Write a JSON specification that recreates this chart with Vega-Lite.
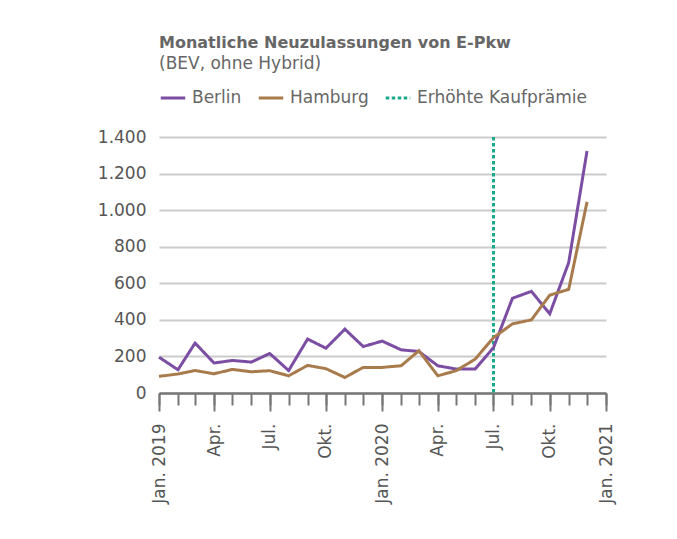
{
  "$schema": "https://vega.github.io/schema/vega-lite/v6.json",
  "width": 447,
  "height": 256,
  "padding": {"left": 97, "top": 35, "right": 10, "bottom": 10},
  "background": "white",
  "config": {
    "font": "DejaVu Sans",
    "view": {"stroke": null}
  },
  "title": {
    "text": "Monatliche Neuzulassungen von E-Pkw",
    "subtitle": "(BEV, ohne Hybrid)",
    "anchor": "start",
    "frame": "group",
    "fontSize": 16,
    "fontWeight": "bold",
    "color": "#666666",
    "subtitleFontSize": 17,
    "subtitleColor": "#666666",
    "subtitlePadding": 5,
    "offset": 12
  },
  "datasets": {
    "werte": [
      {"monat": "2019-01-01", "serie": "Berlin", "wert": 196},
      {"monat": "2019-02-01", "serie": "Berlin", "wert": 127},
      {"monat": "2019-03-01", "serie": "Berlin", "wert": 273},
      {"monat": "2019-04-01", "serie": "Berlin", "wert": 164},
      {"monat": "2019-05-01", "serie": "Berlin", "wert": 178},
      {"monat": "2019-06-01", "serie": "Berlin", "wert": 169},
      {"monat": "2019-07-01", "serie": "Berlin", "wert": 216},
      {"monat": "2019-08-01", "serie": "Berlin", "wert": 123},
      {"monat": "2019-09-01", "serie": "Berlin", "wert": 295},
      {"monat": "2019-10-01", "serie": "Berlin", "wert": 245},
      {"monat": "2019-11-01", "serie": "Berlin", "wert": 349},
      {"monat": "2019-12-01", "serie": "Berlin", "wert": 254},
      {"monat": "2020-01-01", "serie": "Berlin", "wert": 284},
      {"monat": "2020-02-01", "serie": "Berlin", "wert": 236},
      {"monat": "2020-03-01", "serie": "Berlin", "wert": 227},
      {"monat": "2020-04-01", "serie": "Berlin", "wert": 149},
      {"monat": "2020-05-01", "serie": "Berlin", "wert": 131},
      {"monat": "2020-06-01", "serie": "Berlin", "wert": 131},
      {"monat": "2020-07-01", "serie": "Berlin", "wert": 248},
      {"monat": "2020-08-01", "serie": "Berlin", "wert": 518},
      {"monat": "2020-09-01", "serie": "Berlin", "wert": 556},
      {"monat": "2020-10-01", "serie": "Berlin", "wert": 433},
      {"monat": "2020-11-01", "serie": "Berlin", "wert": 713},
      {"monat": "2020-12-01", "serie": "Berlin", "wert": 1324},
      {"monat": "2019-01-01", "serie": "Hamburg", "wert": 91},
      {"monat": "2019-02-01", "serie": "Hamburg", "wert": 104},
      {"monat": "2019-03-01", "serie": "Hamburg", "wert": 123},
      {"monat": "2019-04-01", "serie": "Hamburg", "wert": 105},
      {"monat": "2019-05-01", "serie": "Hamburg", "wert": 129},
      {"monat": "2019-06-01", "serie": "Hamburg", "wert": 116},
      {"monat": "2019-07-01", "serie": "Hamburg", "wert": 122},
      {"monat": "2019-08-01", "serie": "Hamburg", "wert": 94},
      {"monat": "2019-09-01", "serie": "Hamburg", "wert": 151},
      {"monat": "2019-10-01", "serie": "Hamburg", "wert": 133},
      {"monat": "2019-11-01", "serie": "Hamburg", "wert": 85},
      {"monat": "2019-12-01", "serie": "Hamburg", "wert": 140},
      {"monat": "2020-01-01", "serie": "Hamburg", "wert": 140},
      {"monat": "2020-02-01", "serie": "Hamburg", "wert": 149},
      {"monat": "2020-03-01", "serie": "Hamburg", "wert": 231},
      {"monat": "2020-04-01", "serie": "Hamburg", "wert": 94},
      {"monat": "2020-05-01", "serie": "Hamburg", "wert": 122},
      {"monat": "2020-06-01", "serie": "Hamburg", "wert": 185},
      {"monat": "2020-07-01", "serie": "Hamburg", "wert": 303},
      {"monat": "2020-08-01", "serie": "Hamburg", "wert": 378},
      {"monat": "2020-09-01", "serie": "Hamburg", "wert": 400},
      {"monat": "2020-10-01", "serie": "Hamburg", "wert": 535},
      {"monat": "2020-11-01", "serie": "Hamburg", "wert": 567},
      {"monat": "2020-12-01", "serie": "Hamburg", "wert": 1045}
    ],
    "praemie": [
      {"monat": "2020-07-01", "serie": "Erhöhte Kaufprämie"}
    ]
  },
  "layer": [
    {
      "data": {"name": "praemie"},
      "mark": {"type": "rule", "strokeWidth": 3},
      "encoding": {
        "x": {
          "field": "monat", "type": "temporal",
          "scale": {"type": "utc", "domain": [{"year": 2019, "month": 1, "date": 1, "utc": true}, {"year": 2021, "month": 1, "date": 1, "utc": true}]},
          "axis": {
            "orient": "bottom",
            "title": null,
            "labels": false,
            "grid": false,
            "domain": true,
            "domainColor": "#777777",
            "domainWidth": 2.5,
            "ticks": true,
            "tickColor": "#777777",
            "tickWidth": 2,
            "tickSize": 12,
            "values": [
              {"year": 2019, "month": 1, "date": 1, "utc": true},
              {"year": 2019, "month": 2, "date": 1, "utc": true},
              {"year": 2019, "month": 3, "date": 1, "utc": true},
              {"year": 2019, "month": 4, "date": 1, "utc": true},
              {"year": 2019, "month": 5, "date": 1, "utc": true},
              {"year": 2019, "month": 6, "date": 1, "utc": true},
              {"year": 2019, "month": 7, "date": 1, "utc": true},
              {"year": 2019, "month": 8, "date": 1, "utc": true},
              {"year": 2019, "month": 9, "date": 1, "utc": true},
              {"year": 2019, "month": 10, "date": 1, "utc": true},
              {"year": 2019, "month": 11, "date": 1, "utc": true},
              {"year": 2019, "month": 12, "date": 1, "utc": true},
              {"year": 2020, "month": 1, "date": 1, "utc": true},
              {"year": 2020, "month": 2, "date": 1, "utc": true},
              {"year": 2020, "month": 3, "date": 1, "utc": true},
              {"year": 2020, "month": 4, "date": 1, "utc": true},
              {"year": 2020, "month": 5, "date": 1, "utc": true},
              {"year": 2020, "month": 6, "date": 1, "utc": true},
              {"year": 2020, "month": 7, "date": 1, "utc": true},
              {"year": 2020, "month": 8, "date": 1, "utc": true},
              {"year": 2020, "month": 9, "date": 1, "utc": true},
              {"year": 2020, "month": 10, "date": 1, "utc": true},
              {"year": 2020, "month": 11, "date": 1, "utc": true},
              {"year": 2020, "month": 12, "date": 1, "utc": true},
              {"year": 2021, "month": 1, "date": 1, "utc": true}
            ]
          }
        },
        "color": {"field": "serie", "type": "nominal"},
        "strokeDash": {"field": "serie", "type": "nominal"}
      }
    },
    {
      "data": {"name": "werte"},
      "mark": {"type": "line", "strokeWidth": 3, "clip": false},
      "encoding": {
        "x": {
          "field": "monat", "type": "temporal",
          "scale": {"type": "utc", "domain": [{"year": 2019, "month": 1, "date": 1, "utc": true}, {"year": 2021, "month": 1, "date": 1, "utc": true}]},
          "axis": {
            "orient": "bottom",
            "title": null,
            "grid": false,
            "domain": false,
            "ticks": true,
            "tickColor": "#777777",
            "tickWidth": 2,
            "tickSize": 18,
            "labelAngle": -90,
            "labelFlush": false,
            "labelOverlap": false,
            "labelFontSize": 17,
            "labelColor": "#555555",
            "labelPadding": 12,
            "labelExpr": "utcmonth(datum.value) == 0 ? 'Jan. ' + utcyear(datum.value) : utcmonth(datum.value) == 3 ? 'Apr.' : utcmonth(datum.value) == 6 ? 'Jul.' : 'Okt.'",
            "values": [
              {"year": 2019, "month": 1, "date": 1, "utc": true},
              {"year": 2019, "month": 4, "date": 1, "utc": true},
              {"year": 2019, "month": 7, "date": 1, "utc": true},
              {"year": 2019, "month": 10, "date": 1, "utc": true},
              {"year": 2020, "month": 1, "date": 1, "utc": true},
              {"year": 2020, "month": 4, "date": 1, "utc": true},
              {"year": 2020, "month": 7, "date": 1, "utc": true},
              {"year": 2020, "month": 10, "date": 1, "utc": true},
              {"year": 2021, "month": 1, "date": 1, "utc": true}
            ]
          }
        },
        "y": {
          "field": "wert", "type": "quantitative",
          "scale": {"domain": [0, 1400], "nice": false},
          "axis": {
            "title": null,
            "values": [0, 200, 400, 600, 800, 1000, 1200, 1400],
            "labelExpr": "replace(format(datum.value, ',d'), ',', '.')",
            "domain": false,
            "ticks": false,
            "grid": true,
            "gridColor": "#cccccc",
            "gridWidth": 2,
            "labelFontSize": 17,
            "labelColor": "#555555",
            "labelPadding": 13
          }
        },
        "color": {
          "field": "serie", "type": "nominal",
          "scale": {"domain": ["Berlin", "Hamburg", "Erhöhte Kaufprämie"], "range": ["#7b4ea3", "#a87b4d", "#1ba98b"]},
          "legend": {
            "title": null,
            "orient": "top",
            "direction": "horizontal",
            "symbolType": "stroke",
            "symbolStrokeWidth": 3,
            "symbolSize": 600,
            "labelFontSize": 17,
            "labelLimit": 300,
            "labelColor": "#666666",
            "labelOffset": 5,
            "columnPadding": 10,
            "offset": 31
          }
        },
        "strokeDash": {
          "field": "serie", "type": "nominal",
          "scale": {"domain": ["Berlin", "Hamburg", "Erhöhte Kaufprämie"], "range": [[1, 0], [1, 0], [3.5, 2.5]]},
          "legend": {
            "title": null,
            "orient": "top",
            "direction": "horizontal",
            "symbolType": "stroke",
            "symbolStrokeWidth": 3,
            "symbolSize": 600,
            "labelFontSize": 17,
            "labelLimit": 300,
            "labelColor": "#666666",
            "labelOffset": 5,
            "columnPadding": 10,
            "offset": 31
          }
        }
      }
    }
  ],
  "resolve": {"axis": {"x": "independent"}}
}
